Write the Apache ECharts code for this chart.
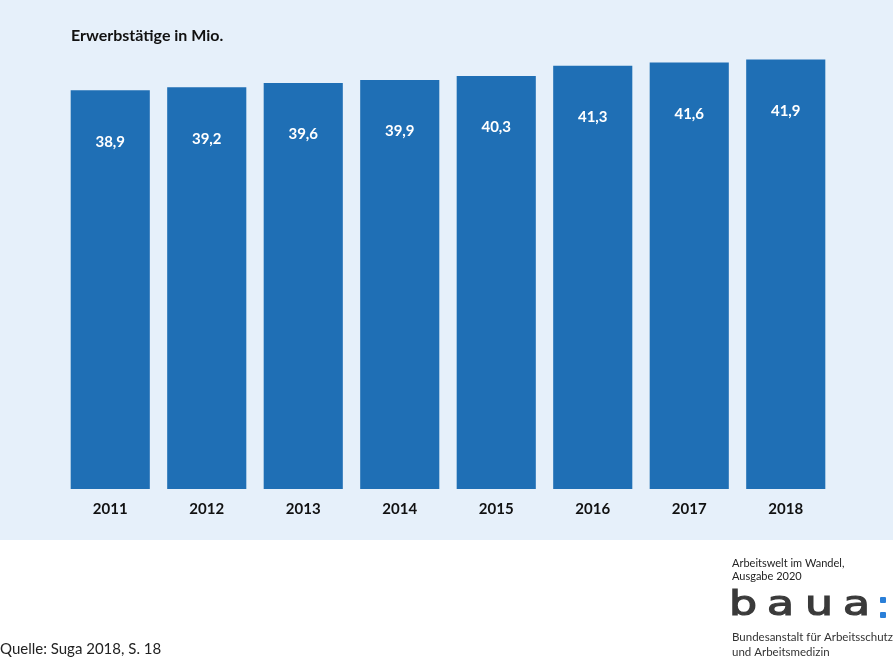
<!DOCTYPE html>
<html>
<head>
<meta charset="utf-8">
<script src="https://cdn.jsdelivr.net/npm/echarts@6/dist/echarts.min.js"></script>
<style>
html,body{margin:0;padding:0;background:#fff;}
#chart{width:893px;height:663px;}
</style>
</head>
<body>
<div id="chart"></div>
<script>
var years = ['2011','2012','2013','2014','2015','2016','2017','2018'];
var employed = [38.9, 39.2, 39.6, 39.9, 40.3, 41.3, 41.6, 41.9];
var titleText = 'Erwerbstätige in Mio.';
var sourceText = 'Quelle: Suga 2018, S. 18';

var FONT = 'Lato, "Open Sans", sans-serif';
var chart = echarts.init(document.getElementById('chart'));
var logoLetters = [
  {t:'b', x:729}, {t:'a', x:767}, {t:'u', x:805}, {t:'a', x:843}
];
var graphics = [
  {type:'rect', z:-10, shape:{x:0,y:0,width:893,height:540}, style:{fill:'#E6F0FA'}},
  {type:'text', left:71, top:28, style:{text:titleText, font:'bold 16px ' + FONT, fill:'#111'}},
  {type:'text', left:0, top:642, style:{text:sourceText, font:'15px ' + FONT, fill:'#222'}},
  {type:'text', left:732, top:557, style:{text:'Arbeitswelt im Wandel,\nAusgabe 2020', font:'11px ' + FONT, fill:'#222', lineHeight:13}},
  {type:'text', left:732, top:630, style:{text:'Bundesanstalt für Arbeitsschutz\nund Arbeitsmedizin', font:'11.5px ' + FONT, fill:'#333', lineHeight:15}},
  {type:'rect', shape:{x:880, y:597, width:6, height:6, r:1}, style:{fill:'#2a7fd8'}},
  {type:'rect', shape:{x:880, y:612, width:6, height:6, r:1}, style:{fill:'#2a7fd8'}}
];
logoLetters.forEach(function(l){
  graphics.push({type:'text', x:l.x, y:589, scaleX:1.3,
    style:{text:l.t, font:'34px "DejaVu Sans", sans-serif', fill:'#3a3a3a', stroke:'#3a3a3a', lineWidth:1.2}});
});

chart.setOption({
  backgroundColor:'#ffffff',
  animation:false,
  grid:{left:62, right:59, top:27.75, bottom:174},
  xAxis:{
    type:'category', data:years,
    axisLine:{show:false}, axisTick:{show:false},
    axisLabel:{margin:13, fontSize:15, fontWeight:'bold', color:'#111', fontFamily:FONT}
  },
  yAxis:{
    type:'value', min:0, max:45,
    show:false, splitLine:{show:false}
  },
  series:[{
    type:'bar', data:employed, barCategoryGap:'18%',
    itemStyle:{color:'#1F6FB5'},
    label:{
      show:true, position:'insideTop', distance:44,
      color:'#fff', fontSize:15, fontWeight:'bold', fontFamily:FONT,
      formatter:function(p){ return p.value.toFixed(1).replace('.', ','); }
    }
  }],
  graphic:graphics
});
</script>
</body>
</html>
